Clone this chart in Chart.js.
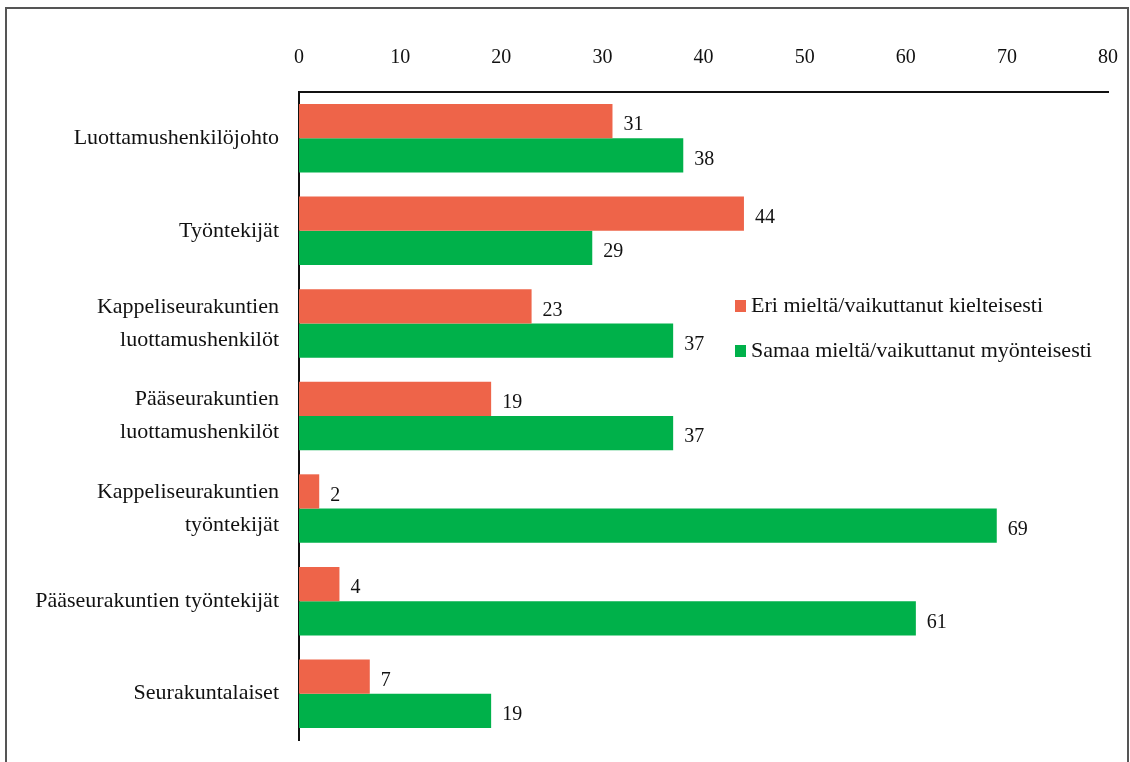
<!DOCTYPE html>
<html>
<head>
<meta charset="utf-8">
<script src="https://cdn.jsdelivr.net/npm/chart.js@4"></script>
<style>
  html, body { margin: 0; padding: 0; background: #fff; overflow: hidden; }
  #frame { position: absolute; left: 5px; top: 7px; width: 1124px; height: 800px; border: 2px solid #555; box-sizing: border-box; }
  #wrap { position: absolute; left: 0; top: 0; width: 1130px; height: 762px; }
</style>
</head>
<body>
<div id="frame"></div>
<div id="wrap"><canvas id="chart"></canvas></div>
<script>
const categories = [
  'Luottamushenkilöjohto',
  'Työntekijät',
  ['Kappeliseurakuntien', 'luottamushenkilöt'],
  ['Pääseurakuntien', 'luottamushenkilöt'],
  ['Kappeliseurakuntien', 'työntekijät'],
  'Pääseurakuntien työntekijät',
  'Seurakuntalaiset'
];
const negative = [31, 44, 23, 19, 2, 4, 7];
const positive = [38, 29, 37, 37, 69, 61, 19];
const seriesNames = ['Eri mieltä/vaikuttanut kielteisesti', 'Samaa mieltä/vaikuttanut myönteisesti'];
const colors = ['#ee6449', '#00b14a'];

const FONT = 'Liberation Serif';

const valueLabels = {
  id: 'valueLabels',
  afterDatasetsDraw(chart) {
    const ctx = chart.ctx;
    ctx.save();
    ctx.font = '20px "' + FONT + '"';
    ctx.fillStyle = '#111';
    ctx.textAlign = 'left';
    ctx.textBaseline = 'middle';
    chart.data.datasets.forEach((ds, i) => {
      chart.getDatasetMeta(i).data.forEach((bar, j) => {
        ctx.fillText(String(ds.data[j]), bar.x + 11, bar.y + 4);
      });
    });
    ctx.restore();
  }
};

const sideLegend = {
  id: 'sideLegend',
  afterDraw(chart) {
    const ctx = chart.ctx;
    ctx.save();
    ctx.font = '22px "' + FONT + '"';
    ctx.textBaseline = 'middle';
    ctx.textAlign = 'left';
    chart.data.datasets.forEach((ds, i) => {
      const y = 306 + i * 45;
      ctx.fillStyle = ds.backgroundColor;
      ctx.fillRect(735, y - 6, 11, 12);
      ctx.fillStyle = '#111';
      ctx.fillText(ds.label, 751, y);
    });
    ctx.restore();
  }
};

new Chart(document.getElementById('chart'), {
  type: 'bar',
  data: {
    labels: categories,
    datasets: [
      { label: seriesNames[0], data: negative, backgroundColor: colors[0] },
      { label: seriesNames[1], data: positive, backgroundColor: colors[1] }
    ]
  },
  options: {
    indexAxis: 'y',
    responsive: true,
    maintainAspectRatio: false,
    animation: false,
    layout: { padding: { left: 0, top: 0, right: 22, bottom: 22 } },
    datasets: {
      bar: { categoryPercentage: 0.74, barPercentage: 1.0 }
    },
    plugins: {
      legend: { display: false },
      tooltip: { enabled: false }
    },
    scales: {
      x: {
        position: 'top',
        min: 0,
        max: 80,
        ticks: {
          stepSize: 10,
          color: '#111',
          padding: 22,
          font: { family: FONT, size: 20 }
        },
        grid: { display: false, drawTicks: false },
        border: { display: true, color: '#111', width: 2 },
        afterFit: (scale) => {
          scale.height = 92;
          scale.paddingLeft = 0;
          scale.paddingRight = 0;
        }
      },
      y: {
        ticks: {
          color: '#111',
          padding: 20,
          font: { family: FONT, size: 22, lineHeight: 1.5 }
        },
        grid: { display: false, drawTicks: false },
        border: { display: true, color: '#111', width: 2 },
        afterFit: (scale) => {
          scale.width = 299;
          scale.paddingTop = 0;
          scale.paddingBottom = 0;
        }
      }
    }
  },
  plugins: [valueLabels, sideLegend]
});
</script>
</body>
</html>
